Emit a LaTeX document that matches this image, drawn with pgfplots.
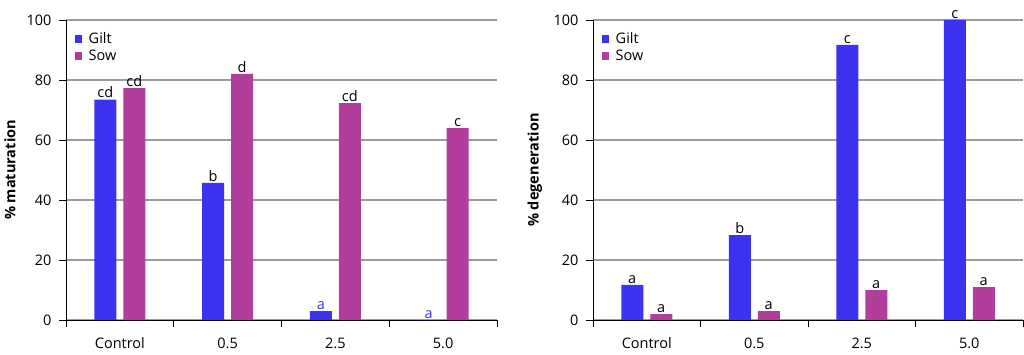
\documentclass[border=0pt]{standalone}
\usepackage{fontspec}
\setmainfont{Open Sans}
\usepackage{pgfplots}
\pgfplotsset{compat=1.18}
\definecolor{gilt}{RGB}{60,50,240}
\definecolor{sow}{RGB}{176,62,154}
\definecolor{gridc}{RGB}{155,155,155}
\newcommand{\lblfont}{\fontsize{14.5}{16}\selectfont}
\pgfplotsset{mystyle/.style={
  scale only axis, height=300pt,
  xmin=-0.5, xmax=3.5, ymin=0, ymax=100,
  axis lines=left, axis line style={-, black, line width=0.9pt},
  xtick={0,1,2,3}, xticklabels={Control,0.5,2.5,5.0},
  x tick style={draw=none},
  extra x ticks={-0.5,0.5,1.5,2.5,3.5}, extra x tick labels={},
  extra x tick style={tick align=outside, major tick length=7pt, xmajorgrids=false,
     x tick style={draw=black, line width=0.9pt}},
  ytick={0,20,40,60,80,100},
  y tick style={black, line width=0.9pt}, tick align=outside, major tick length=7pt,
  ymajorgrids, grid style={gridc, line width=1.2pt},
  tick label style={font=\lblfont},
  x tick label style={yshift=-7pt},
  y tick label style={xshift=-4pt},
  /pgf/number format/assume math mode=true,
  ylabel style={font=\lblfont\bfseries, anchor=center},
  legend style={at={(0,1)}, anchor=north west, xshift=6pt, yshift=-9pt, draw=none, fill=none,
     font=\lblfont, row sep=2pt, column sep=5pt, nodes={inner sep=1.5pt}},
  legend cell align=left,
  legend image code/.code={\path[#1, draw=none] (0pt,-4pt) rectangle (7pt,4pt);},
  every node near coord/.append style={font=\lblfont, black, inner sep=1.5pt, anchor=south},
}}
\begin{document}
\begin{tikzpicture}
\useasboundingbox (0,0) rectangle (1024pt,354pt);
\begin{axis}[mystyle, at={(66pt,34pt)}, anchor=south west, width=431pt,
  ylabel={\% maturation}, ylabel style={at={(axis description cs:-0.13,0.5)}}]
\addplot[ybar, fill=gilt, draw=none, bar width=22pt, bar shift=-14.5pt,
  nodes near coords, point meta=explicit symbolic,
  every node near coord/.append style={xshift=-14.5pt}]
  coordinates {(0,73.5)[cd] (1,45.7)[b] (2,3)[\textcolor{gilt}{a}] (3,0)[\textcolor{gilt}{a}]};
\addplot[ybar, fill=sow, draw=none, bar width=22pt, bar shift=14.5pt,
  nodes near coords, point meta=explicit symbolic,
  every node near coord/.append style={xshift=14.5pt}]
  coordinates {(0,77.3)[cd] (1,82)[d] (2,72.3)[cd] (3,64)[c]};
\legend{Gilt,Sow}
\end{axis}
\begin{axis}[mystyle, at={(593pt,34pt)}, anchor=south west, width=430pt,
  ylabel={\% degeneration}, ylabel style={at={(axis description cs:-0.135,0.5)}}]
\addplot[ybar, fill=gilt, draw=none, bar width=22pt, bar shift=-14.5pt,
  nodes near coords, point meta=explicit symbolic,
  every node near coord/.append style={xshift=-14.5pt}]
  coordinates {(0,11.7)[a] (1,28.3)[b] (2,91.7)[c] (3,100)[c]};
\addplot[ybar, fill=sow, draw=none, bar width=22pt, bar shift=14.5pt,
  nodes near coords, point meta=explicit symbolic,
  every node near coord/.append style={xshift=14.5pt}]
  coordinates {(0,2)[a] (1,3)[a] (2,10)[a] (3,11)[a]};
\legend{Gilt,Sow}
\end{axis}
\end{tikzpicture}
\end{document}
